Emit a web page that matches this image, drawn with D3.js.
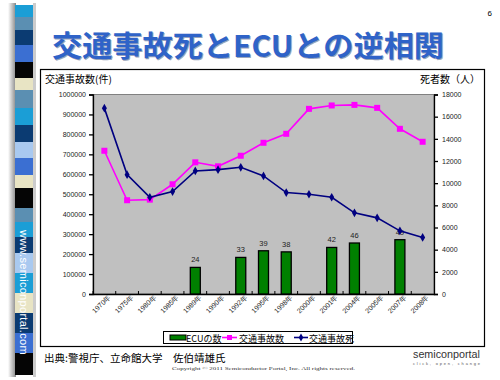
<!DOCTYPE html>
<html><head><meta charset="utf-8">
<script src="https://cdn.jsdelivr.net/npm/d3@7"></script>
<style>
html,body{margin:0;padding:0;background:#fff;}
svg{display:block;font-family:"Noto Sans CJK JP","Noto Sans",sans-serif;}
</style></head>
<body><svg id="c" width="500" height="380"></svg>
<script>
const years = ["1970年","1975年","1980年","1985年","1989年","1990年","1992年","1995年","1998年","2000年","2001年","2004年","2005年","2007年","2008年"];
const accidents = [718000,470000,473000,550000,660000,640000,693000,758000,803000,928000,945000,948000,933000,828000,763000];
const deaths = [16770,10770,8730,9240,11100,11220,11430,10650,9150,9000,8730,7320,6870,5700,5100];
const ecu = [null,null,null,null,24,null,33,39,38,null,42,46,null,49,null];
const leftTicks = [0,100000,200000,300000,400000,500000,600000,700000,800000,900000,1000000];
const rightTicks = [0,2000,4000,6000,8000,10000,12000,14000,16000,18000];
const legendLabels = ["ECUの数","交通事故数","交通事故死"];
const stripColors = ["#1b9ed6","#5b8fb2","#0b3b72","#3b6fd2","#050505","#e8e4c4","#5b8fb2","#1b9ed6","#0b3b72","#a9c9f0","#3b6fd2","#e8e4c4","#050505","#5b8fb2","#1b9ed6","#0b3b72","#a9c9f0","#1b9ed6","#e8e4c4","#0b3b72","#3b6fd2","#050505"];
const stripStops = [5,17,30,45,62,78,90,108,125,142,158,175,188,208,222,237,253,273,293,313,333,353,375];

const svg = d3.select("#c");

// left decorative strip
const shadow = svg.append("defs").append("linearGradient").attr("id","sh").attr("x1","0").attr("x2","1");
shadow.append("stop").attr("offset","0").attr("stop-color","#fff");
shadow.append("stop").attr("offset","1").attr("stop-color","#888");
svg.append("rect").attr("x",8).attr("y",3).attr("width",8).attr("height",374).attr("fill","url(#sh)");
svg.append("rect").attr("x",33).attr("y",3).attr("width",3).attr("height",374).attr("fill","#ccc");
svg.selectAll("rect.strip").data(stripColors).join("rect").attr("class","strip")
  .attr("x",15).attr("width",18)
  .attr("y",(d,i)=>stripStops[i]).attr("height",(d,i)=>stripStops[i+1]-stripStops[i])
  .attr("fill",d=>d);
svg.append("text").attr("transform","translate(20,230) rotate(90)")
  .attr("fill","#fff").attr("font-size",11).attr("font-family","Arial, Liberation Sans, sans-serif")
  .attr("letter-spacing",0.3).text("www.semiconportal.com");

// page number
svg.append("text").attr("x",492).attr("y",16).attr("font-size",8).attr("text-anchor","end")
  .attr("font-family","Arial, Liberation Sans, sans-serif").text("6");

// title
const title = "交通事故死とECUとの逆相関";
svg.append("text").attr("x",53).attr("y",58).attr("font-size",29).attr("font-weight","bold")
  .attr("fill","#9aa6bb").attr("textLength",392).attr("lengthAdjust","spacingAndGlyphs").text(title);
svg.append("text").attr("x",52).attr("y",57).attr("font-size",29).attr("font-weight","bold")
  .attr("fill","#2f63c8").attr("textLength",392).attr("lengthAdjust","spacingAndGlyphs").text(title);

// chart frame
svg.append("rect").attr("x",40.5).attr("y",69.5).attr("width",444).attr("height",277)
  .attr("fill","#fff").attr("stroke","#000").attr("stroke-width",1.2);

const X0=93, X1=434, YT=94.5, YB=294;
const x = d3.scaleBand().domain(years).range([X0,X1]).padding(0);
const yL = d3.scaleLinear().domain([0,1000000]).range([YB,YT]);
const yR = d3.scaleLinear().domain([0,18000]).range([YB,YT]);

svg.append("rect").attr("x",X0).attr("y",YT).attr("width",X1-X0).attr("height",YB-YT)
  .attr("fill","#c0c0c0").attr("stroke","#808080").attr("stroke-width",1);

// axes
const axL = svg.append("g").attr("transform",`translate(${X0},0)`)
  .call(d3.axisLeft(yL).tickValues(leftTicks).tickFormat(d3.format("d")).tickSize(4).tickPadding(3));
const axR = svg.append("g").attr("transform",`translate(${X1},0)`)
  .call(d3.axisRight(yR).tickValues(rightTicks).tickFormat(d3.format("d")).tickSize(4).tickPadding(4));
[axL,axR].forEach(a=>{
  a.selectAll("text").attr("font-size",7).attr("fill","#222").attr("font-family","Arial, Liberation Sans, sans-serif");
  a.selectAll("path,line").attr("stroke","#000").attr("stroke-width",1.3);
});
const axB = svg.append("g").attr("transform",`translate(0,${YB})`)
  .call(d3.axisBottom(x).tickSize(0).tickPadding(6));
axB.select("path").attr("stroke","#000").attr("stroke-width",1.3);
axB.selectAll("text").attr("font-size",7).attr("fill","#222")
  .attr("text-anchor","end").attr("dx","0.3em").attr("dy","0.2em")
  .attr("transform","rotate(-45)");
// small tick marks at category boundaries (inward)
svg.append("g").selectAll("line").data(years).join("line")
  .attr("x1",d=>x(d)).attr("x2",d=>x(d)).attr("y1",YB).attr("y2",YB-3)
  .attr("stroke","#000").attr("stroke-width",1);

// axis titles
svg.append("text").attr("x",45).attr("y",83).attr("font-size",10).text("交通事故数(件)");
svg.append("text").attr("x",480).attr("y",83).attr("font-size",10).attr("text-anchor","end").text("死者数（人）");

// bars
const bw = 10;
const barData = years.map((y,i)=>({y, v:ecu[i]})).filter(d=>d.v!=null);
svg.append("g").selectAll("rect").data(barData).join("rect")
  .attr("x",d=>x(d.y)+x.bandwidth()/2-bw/2).attr("width",bw)
  .attr("y",d=>yR(d.v*100)).attr("height",d=>YB-yR(d.v*100))
  .attr("fill","#008000").attr("stroke","#000").attr("stroke-width",1.3);
svg.append("g").selectAll("text").data(barData).join("text")
  .attr("x",d=>x(d.y)+x.bandwidth()/2).attr("y",d=>yR(d.v*100)-5)
  .attr("text-anchor","middle").attr("font-size",7.5).attr("fill","#222")
  .attr("font-family","Arial, Liberation Sans, sans-serif").text(d=>d.v);

// lines
const cx = d=>x(d)+x.bandwidth()/2;
const lineL = d3.line().x((d,i)=>cx(years[i])).y(d=>yL(d));
const lineR = d3.line().x((d,i)=>cx(years[i])).y(d=>yR(d));
svg.append("path").attr("d",lineL(accidents)).attr("fill","none").attr("stroke","#ff00ff").attr("stroke-width",1.6);
svg.append("g").selectAll("rect").data(accidents).join("rect")
  .attr("x",(d,i)=>cx(years[i])-3).attr("y",d=>yL(d)-3).attr("width",6).attr("height",6).attr("fill","#ff00ff");
svg.append("path").attr("d",lineR(deaths)).attr("fill","none").attr("stroke","#000080").attr("stroke-width",1.6);
svg.append("g").selectAll("path").data(deaths).join("path")
  .attr("transform",(d,i)=>`translate(${cx(years[i])},${yR(d)})`)
  .attr("d",d3.symbol(d3.symbolDiamond,22)).attr("fill","#000080");

// legend
const lg = svg.append("g");
lg.append("rect").attr("x",163.5).attr("y",331.5).attr("width",189).attr("height",12).attr("fill","#fff").attr("stroke","#000").attr("stroke-width",1);
lg.append("rect").attr("x",170).attr("y",335).attr("width",16).attr("height",5).attr("fill","#008000").attr("stroke","#000").attr("stroke-width",1);
lg.append("text").attr("x",186).attr("y",341.5).attr("font-size",9).text(legendLabels[0]);
lg.append("line").attr("x1",222).attr("x2",237).attr("y1",337.5).attr("y2",337.5).attr("stroke","#ff00ff").attr("stroke-width",1.6);
lg.append("rect").attr("x",227).attr("y",335).attr("width",5).attr("height",5).attr("fill","#ff00ff");
lg.append("text").attr("x",239).attr("y",341.5).attr("font-size",9).text(legendLabels[1]);
lg.append("line").attr("x1",294).attr("x2",308).attr("y1",337.5).attr("y2",337.5).attr("stroke","#000080").attr("stroke-width",1.6);
lg.append("path").attr("transform","translate(301,337.5)").attr("d",d3.symbol(d3.symbolDiamond,18)).attr("fill","#000080");
lg.append("text").attr("x",309).attr("y",341.5).attr("font-size",9).text(legendLabels[2]);

// footer
svg.append("text").attr("x",44).attr("y",362).attr("font-size",10.5).text("出典:警視庁、立命館大学　佐伯靖雄氏");
svg.append("text").attr("x",413).attr("y",358).attr("font-size",10.5).attr("fill","#333")
  .attr("textLength",67).attr("lengthAdjust","spacingAndGlyphs")
  .attr("font-family","Arial, Liberation Sans, sans-serif").text("semiconportal");
svg.append("text").attr("x",413).attr("y",365).attr("font-size",4).attr("fill","#555")
  .attr("textLength",67).attr("lengthAdjust","spacing")
  .attr("font-family","Arial, Liberation Sans, sans-serif").text("click, open, change");
svg.append("text").attr("x",172).attr("y",370).attr("font-size",5).attr("fill","#333")
  .attr("textLength",183).attr("lengthAdjust","spacingAndGlyphs")
  .attr("font-family","Liberation Serif, serif").text("Copyright © 2011  Semiconductor Portal, Inc.  All rights reserved.");
</script></body></html>
